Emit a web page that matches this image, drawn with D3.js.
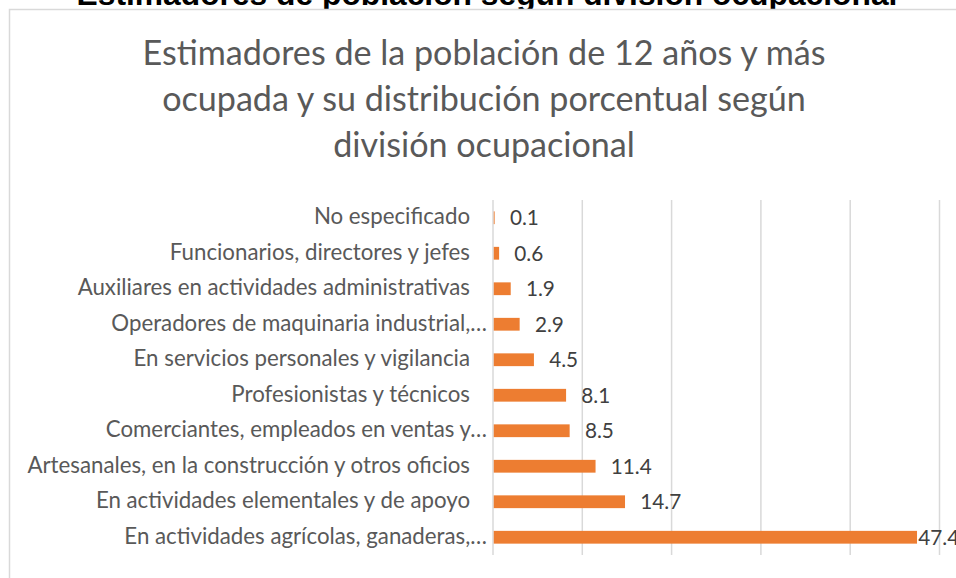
<!DOCTYPE html>
<html><head><meta charset="utf-8">
<script src="https://cdn.jsdelivr.net/npm/d3@7"></script>
<style>html,body{margin:0;padding:0;background:#fff;overflow:hidden}</style>
</head><body>
<svg id="c" width="956" height="578"></svg>
<script>
const categories = [
  "No especificado",
  "Funcionarios, directores y jefes",
  "Auxiliares en actividades administrativas",
  "Operadores de maquinaria industrial,…",
  "En servicios personales y vigilancia",
  "Profesionistas y técnicos",
  "Comerciantes, empleados en ventas y…",
  "Artesanales, en la construcción y otros oficios",
  "En actividades elementales y de apoyo",
  "En actividades agrícolas, ganaderas,…"
];
const values = [0.1, 0.6, 1.9, 2.9, 4.5, 8.1, 8.5, 11.4, 14.7, 47.4];
const xTicks = [0, 10, 20, 30, 40, 50];
const headerTitle = "Estimadores de población según división ocupacional";
const titleLines = ["Estimadores de la población de 12 años y más", "ocupada y su distribución porcentual según", "división ocupacional"];

const svg = d3.select("#c");
const font = "Lato, 'Open Sans', sans-serif";

function fit(sel, target) {
  const n = sel.node();
  const fs = parseFloat(sel.attr("font-size"));
  const w = n.getComputedTextLength();
  sel.attr("font-size", (fs * target / w).toFixed(2));
  return fs * target / w;
}

// header (cropped at top)
const h = svg.append("text").attr("x", 487).attr("y", 5).attr("text-anchor", "middle")
  .attr("font-family", "'Liberation Sans', Arial, sans-serif").attr("font-weight", "bold")
  .attr("font-size", 26).attr("fill", "#000").text(headerTitle);
fit(h, 821);

// chart border
svg.append("rect").attr("x", 9.5).attr("y", 9.5).attr("width", 1000).attr("height", 1000)
  .attr("fill", "#fff").attr("stroke", "#D9D9D9").attr("stroke-width", 1.5);

// chart title
const tY = [65, 111, 157];
let tfs = null;
titleLines.forEach((t, i) => {
  const s = svg.append("text").attr("x", 484).attr("y", tY[i]).attr("text-anchor", "middle")
    .attr("font-family", font).attr("font-size", 31).attr("fill", "#595959").text(t);
  if (i === 0) tfs = fit(s, 683); else s.attr("font-size", tfs);
});

const x = d3.scaleLinear().domain([0, 50]).range([493, 939.5]);
const y = d3.scaleBand().domain(categories).range([200, 555]).paddingInner(0.64).paddingOuter(0.32);

// gridlines
svg.append("g").selectAll("line").data(xTicks).join("line")
  .attr("x1", d => x(d)).attr("x2", d => x(d)).attr("y1", 200).attr("y2", 555)
  .attr("stroke", "#D9D9D9").attr("stroke-width", 1.5);

// bars
svg.append("g").selectAll("rect").data(values).join("rect")
  .attr("x", x(0) + 0.75).attr("y", (d, i) => y(categories[i]))
  .attr("width", d => Math.max(0, x(d) - x(0))).attr("height", y.bandwidth())
  .attr("fill", "#ED7D31");

// category labels
const lab = svg.append("g").selectAll("text").data(categories).join("text")
  .attr("x", d => d.endsWith("…") ? 487 : 470)
  .attr("y", d => y(d) + y.bandwidth() / 2 + 6.5)
  .attr("text-anchor", "end").attr("font-family", font).attr("font-size", 18)
  .attr("fill", "#595959").text(d => d);
const art = lab.filter(d => d.startsWith("Artesanales"));
const lfs = fit(art, 443);
lab.attr("font-size", lfs);

// value labels
const chartRight = 956;
const vl = svg.append("g").selectAll("text").data(values).join("text")
  .attr("y", (d, i) => y(categories[i]) + y.bandwidth() / 2 + 7.5)
  .attr("font-family", font).attr("font-size", 20).attr("fill", "#404040")
  .text(d => d.toFixed(1));
const v147 = vl.filter(d => d === 14.7);
const vfs = fit(v147, 41);
vl.attr("font-size", vfs);
vl.each(function(d) {
  const w = this.getComputedTextLength();
  let px = x(d) + 16;
  if (px + w > chartRight + 4) px = x(d) + 2;
  d3.select(this).attr("x", px);
});
</script>
</body></html>
